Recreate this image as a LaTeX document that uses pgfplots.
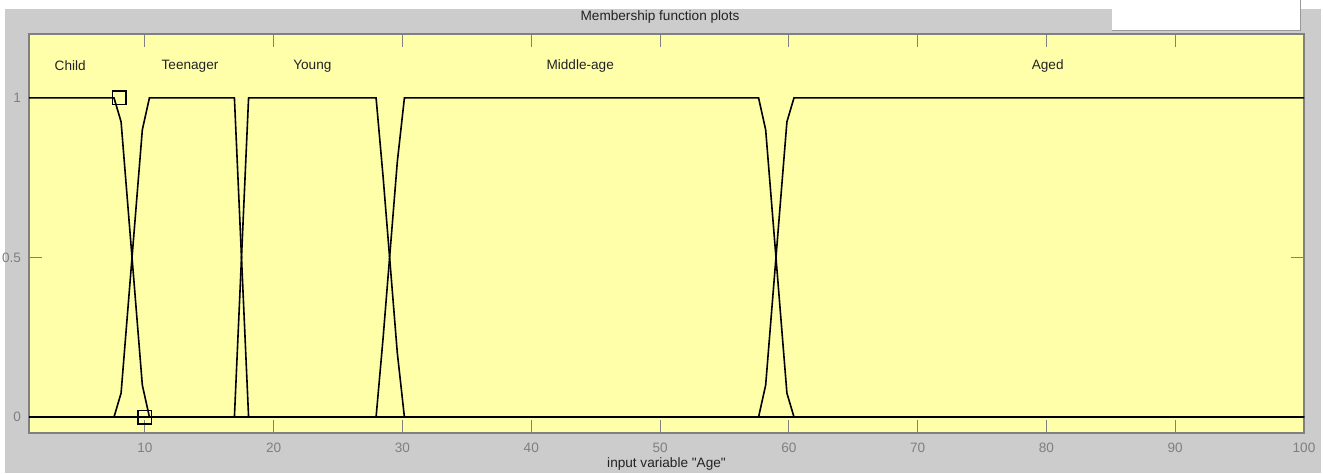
\documentclass[border=0pt]{standalone}
\usepackage{fontspec}
\setmainfont{Liberation Sans}[Ligatures=TeXOff]
\usepackage{pgfplots}
\pgfplotsset{compat=1.18}
\definecolor{bggray}{HTML}{CCCCCC}
\definecolor{mfyellow}{HTML}{FFFFAA}
\definecolor{tickgray}{HTML}{808080}
\definecolor{txt}{HTML}{222222}
\newcommand{\fs}{\fontsize{6.8}{8}\selectfont}
\begin{document}
\begin{tikzpicture}
\fill[white] (0,0) rectangle (661.5pt,236.5pt);
\fill[bggray] (2.5pt,0) rectangle (660.5pt,232pt);
\fill[white] (556pt,221.5pt) rectangle (650pt,236.5pt);
\draw[gray!80,line width=0.5pt] (556pt,221.5pt) -- (650pt,221.5pt) -- (650pt,236.5pt);
\node[font=\fs,text=txt] at (330pt,228pt) {Membership function plots};
\begin{axis}[
  at={(14.5pt,20pt)}, anchor=south west,
  scale only axis, width=637.5pt, height=199.5pt,
  xmin=1, xmax=100, ymin=-0.05, ymax=1.2,
  xtick={10,20,...,100}, ytick={0,0.5,1},
  yticklabels={0,0.5,1},
  tick align=inside, major tick length=6.5pt,
  axis background/.style={fill=mfyellow},
  axis line style={tickgray,line width=0.6pt},
  tick style={tickgray,line width=0.5pt},
  ticklabel style={text=tickgray,font=\fs},
  xticklabel style={yshift=-1.5pt},
  yticklabel style={xshift=-0.5pt},
  /pgf/number format/assume math mode=true,
  xlabel={input variable "Age"},
  xlabel style={font=\fs,text=txt,at={(axis description cs:0.5,0)},anchor=center,yshift=-15.5pt},
  clip=false,
]
\addplot[black,line width=0.8pt] coordinates {(1,1) (7.6,1) (8.15,0.925) (8.7,0.65) (9.25,0.375) (9.8,0.1) (10.35,0) (100,0)};
\addplot[black,line width=0.8pt] coordinates {(1,0) (7.6,0) (8.15,0.075) (8.7,0.35) (9.25,0.625) (9.8,0.9) (10.35,1) (16.95,1) (17.5,0.5) (18.05,0) (100,0)};
\addplot[black,line width=0.8pt] coordinates {(1,0) (16.95,0) (17.5,0.5) (18.05,1) (27.95,1) (28.5,0.75) (29.05,0.475) (29.6,0.2) (30.15,0) (100,0)};
\addplot[black,line width=0.8pt] coordinates {(1,0) (27.95,0) (28.5,0.25) (29.05,0.525) (29.6,0.8) (30.15,1) (57.65,1) (58.2,0.9) (58.75,0.625) (59.3,0.35) (59.85,0.075) (60.4,0) (100,0)};
\addplot[black,line width=0.8pt] coordinates {(1,0) (57.65,0) (58.2,0.1) (58.75,0.375) (59.3,0.65) (59.85,0.925) (60.4,1) (100,1)};
\addplot[only marks,mark=square,mark size=3.4pt,black,line width=0.7pt] coordinates {(8,1) (10,0)};
\node[font=\fs,text=txt] at (axis cs:4.2,1.1) {Child};
\node[font=\fs,text=txt] at (axis cs:13.5,1.1) {Teenager};
\node[font=\fs,text=txt] at (axis cs:23.0,1.1) {Young};
\node[font=\fs,text=txt] at (axis cs:43.8,1.1) {Middle-age};
\node[font=\fs,text=txt] at (axis cs:80.1,1.1) {Aged};
\end{axis}
\pgfresetboundingbox
\useasboundingbox (0,0) rectangle (661.5pt,236.5pt);
\end{tikzpicture}
\end{document}
